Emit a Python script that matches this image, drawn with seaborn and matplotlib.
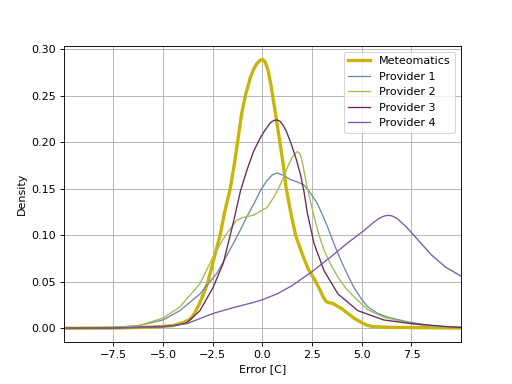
import pandas as pd
import seaborn as sns
import matplotlib.pyplot as plt
import numpy as np

# density curves (x = error in C, y = density)
meteo_x = [-10, -7.5, -6, -5, -4.5, -4, -3.7, -3.5, -3.2, -3, -2.74, -2.4, -2.13, -1.9, -1.62, -1.4, -1.25, -1.05, -0.86, -0.6,
           -0.45, -0.3, -0.15, -0.05, 0.05, 0.15, 0.3, 0.44, 0.65, 0.88, 1.05, 1.2, 1.45, 1.67, 2.0, 2.3, 2.69, 2.9,
           3.05, 3.2, 3.35, 3.5, 3.65, 3.8, 4.0, 4.3, 4.6, 5.0, 5.3, 5.6, 6.5, 10]
meteo_y = [0, 0.0003, 0.001, 0.002, 0.003, 0.006, 0.009, 0.013, 0.025, 0.035, 0.05, 0.078, 0.10, 0.125, 0.15, 0.178, 0.20, 0.23, 0.25, 0.27,
           0.278, 0.284, 0.2875, 0.289, 0.2885, 0.286, 0.276, 0.26, 0.232, 0.20, 0.176, 0.15, 0.122, 0.10, 0.08, 0.064, 0.05, 0.041,
           0.034, 0.029, 0.0275, 0.027, 0.0255, 0.0235, 0.021, 0.016, 0.011, 0.006, 0.003, 0.0018, 0.001, 0.0003]

p1_x = [-10, -7.5, -6.2, -5, -4.15, -3.14, -2.3, -1.9, -1.47, -1.1, -0.78, -0.4, -0.1, 0.2, 0.5, 0.74, 1.0, 1.4, 1.8, 2.1,
        2.4, 2.77, 3.0, 3.28, 3.6, 3.95, 4.3, 4.6, 5.0, 5.3, 5.8, 6.3, 7.3, 8.7, 10]
p1_y = [0, 0.001, 0.003, 0.009, 0.019, 0.037, 0.059, 0.074, 0.091, 0.106, 0.12, 0.135, 0.148, 0.158, 0.165, 0.167, 0.165, 0.16, 0.157, 0.154,
        0.146, 0.134, 0.123, 0.109, 0.091, 0.073, 0.057, 0.044, 0.031, 0.023, 0.016, 0.012, 0.007, 0.002, 0.0005]

p2_x = [-10, -7.5, -6.2, -5, -4.15, -3.14, -2.48, -2.0, -1.62, -1.3, -1.0, -0.78, -0.4, -0.1, 0.24, 0.6, 0.85, 1.07, 1.3, 1.5,
        1.65, 1.76, 1.88, 2.0, 2.18, 2.4, 2.6, 2.85, 3.1, 3.45, 3.8, 4.2, 4.6, 5.3, 6.1, 7.5, 8.5, 10]
p2_y = [0, 0.0005, 0.003, 0.011, 0.023, 0.048, 0.077, 0.095, 0.107, 0.116, 0.119, 0.12, 0.122, 0.126, 0.13, 0.142, 0.152, 0.163, 0.175, 0.184,
        0.188, 0.19, 0.188, 0.18, 0.159, 0.138, 0.12, 0.1, 0.084, 0.068, 0.055, 0.043, 0.034, 0.02, 0.012, 0.005, 0.002, 0.0005]

p3_x = [-10, -7.5, -5, -4.4, -3.8, -3.14, -2.48, -1.97, -1.47, -1.1, -0.78, -0.45, -0.1, 0.1, 0.4, 0.58, 0.74, 0.9, 1.05, 1.2,
        1.42, 1.7, 1.93, 2.1, 2.26, 2.6, 3.1, 3.8, 4.8, 6.1, 7.5, 9.5, 10]
p3_y = [0, 0.0003, 0.002, 0.003, 0.006, 0.019, 0.044, 0.07, 0.113, 0.148, 0.17, 0.19, 0.205, 0.212, 0.221, 0.2235, 0.224, 0.2225, 0.218, 0.212,
        0.2, 0.182, 0.164, 0.146, 0.124, 0.091, 0.062, 0.037, 0.019, 0.009, 0.005, 0.0015, 0.001]

p4_x = [-10, -7.5, -5, -3.8, -2.48, -1.5, -0.6, -0.1, 0.74, 1.5, 2.5, 3.45, 4.3, 5.1, 5.6, 5.9, 6.1, 6.3, 6.5, 6.75,
        7.2, 7.66, 8.5, 9.2, 10]
p4_y = [0, 0.0003, 0.0015, 0.005, 0.016, 0.022, 0.027, 0.030, 0.037, 0.046, 0.061, 0.077, 0.092, 0.105, 0.114, 0.1185, 0.1205, 0.1215, 0.121, 0.1185,
        0.11, 0.099, 0.079, 0.066, 0.056]

names = ["Meteomatics", "Provider 1", "Provider 2", "Provider 3", "Provider 4"]
colors = ["#c9b40c", "#7189ad", "#9fbe52", "#6a2a58", "#7c5aa6"]
widths = [3, 1.2, 1.2, 1.2, 1.2]

fig, ax = plt.subplots(figsize=(6.4, 4.8), dpi=80)
series = [(meteo_x, meteo_y), (p1_x, p1_y), (p2_x, p2_y), (p3_x, p3_y), (p4_x, p4_y)]
for (xs, ys), name, c, lw in zip(series, names, colors, widths):
    sns.lineplot(x=xs, y=ys, ax=ax, label=name, color=c, linewidth=lw)

ax.set_xlim(-9.98, 9.98)
ax.set_xlabel("Error [C]")
ax.set_ylabel("Density")
ax.grid(True)
ax.legend(loc="upper right")

plt.savefig("out.png", dpi=80)
